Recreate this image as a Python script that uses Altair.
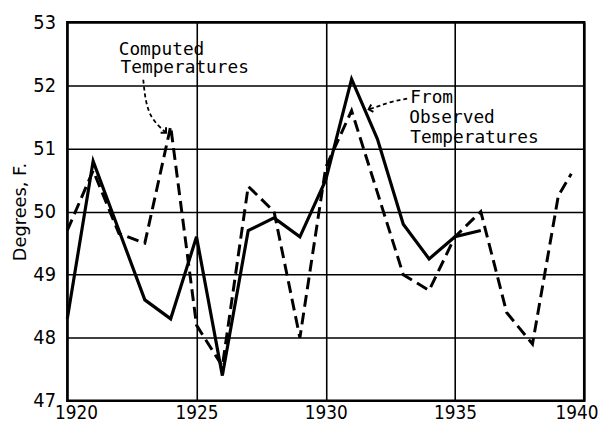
import altair as alt
import pandas as pd

# Observed temperatures (solid)
obs_years = [1920, 1921, 1922, 1923, 1924, 1925, 1926, 1927, 1928, 1929, 1930,
             1931, 1932, 1933, 1934, 1935, 1936]
obs_vals = [48.3, 50.8, 49.7, 48.6, 48.3, 49.6, 47.4, 49.7, 49.9, 49.6, 50.5,
            52.1, 51.15, 49.8, 49.25, 49.6, 49.7]

# Computed temperatures (dashed)
comp_years = [1920, 1921, 1922, 1923, 1924, 1925, 1926, 1927, 1928, 1929, 1930,
              1931, 1932, 1933, 1934, 1935, 1936, 1937, 1938, 1939, 1939.5]
comp_vals = [49.7, 50.65, 49.65, 49.5, 51.35, 48.2, 47.55, 50.4, 50.0, 48.0, 50.7,
             51.6, 50.3, 49.0, 48.75, 49.6, 50.0, 48.4, 47.9, 50.25, 50.6]

# Annotation text
ann_text = ["Computed", "Temperatures", "From", "Observed", "Temperatures"]
ann_x = [1921.99, 1922.06, 1933.27, 1933.23, 1933.27]
ann_y = [52.48, 52.19, 51.72, 51.40, 51.09]

# Annotation leader curves
lead_id = ["c", "c", "c", "c", "o", "o", "o", "o"]
lead_x = [1922.94, 1923.02, 1923.25, 1923.82, 1933.15, 1932.58, 1932.05, 1931.66]
lead_y = [52.09, 51.75, 51.46, 51.25, 51.79, 51.75, 51.67, 51.62]
lead_ord = [0, 1, 2, 3, 0, 1, 2, 3]

head_x = [1923.82, 1931.66]
head_y = [51.25, 51.62]
head_angle = [45, 163]

x_ticks = [1920, 1925, 1930, 1935, 1940]
y_ticks = [47, 48, 49, 50, 51, 52, 53]

obs_df = pd.DataFrame({"year": obs_years, "temp": obs_vals})
comp_df = pd.DataFrame({"year": comp_years, "temp": comp_vals})
ann_df = pd.DataFrame({"x": ann_x, "y": ann_y, "t": ann_text})
lead_df = pd.DataFrame({"id": lead_id, "x": lead_x, "y": lead_y, "o": lead_ord})
head_df = pd.DataFrame({"x": head_x, "y": head_y, "a": head_angle})

LABEL_FONT = "Liberation Sans Narrow, DejaVu Sans Condensed, sans-serif"
TITLE_FONT = "DejaVu Sans"
ANN_FONT = "DejaVu Sans Mono"

xscale = alt.Scale(domain=[1920, 1940], nice=False, zero=False)
yscale = alt.Scale(domain=[47, 53], nice=False, zero=False)

xenc = alt.X("year:Q", scale=xscale,
             axis=alt.Axis(values=x_ticks, format="d", title=None, grid=True,
                           gridColor="black", gridWidth=1.6, gridOpacity=1,
                           ticks=False, domain=False, labelFont=LABEL_FONT,
                           labelFontSize=19, labelColor="black", labelPadding=3,
                           labelFlush=False,
                           labelAlign=alt.ExprRef(
                               "datum.value == 1920 ? 'left' : datum.value == 1940 ? 'right' : 'center'"),
                           labelOffset=alt.ExprRef(
                               "datum.value == 1920 ? -13 : datum.value == 1940 ? 14 : 0")))
yenc = alt.Y("temp:Q", scale=yscale,
             axis=alt.Axis(values=y_ticks, format="d", title="Degrees, F.", grid=True,
                           gridColor="black", gridWidth=1.6, gridOpacity=1,
                           ticks=False, domain=False, labelFont=LABEL_FONT,
                           labelFontSize=20, labelColor="black", labelPadding=12,
                           titleFont=TITLE_FONT, titleFontSize=18,
                           titleFontWeight="normal", titleColor="black",
                           titlePadding=3))

obs_line = alt.Chart(obs_df).mark_line(color="black", strokeWidth=3.2,
                                       strokeJoin="miter").encode(x=xenc, y=yenc)

comp_line = alt.Chart(comp_df).mark_line(color="black", strokeWidth=3,
                                         strokeDash=[12, 6]).encode(
    x=alt.X("year:Q", scale=xscale),
    y=alt.Y("temp:Q", scale=yscale))

ann = alt.Chart(ann_df).mark_text(font=ANN_FONT, fontSize=18, align="left",
                                  baseline="alphabetic", color="black").encode(
    x=alt.X("x:Q", scale=xscale), y=alt.Y("y:Q", scale=yscale), text="t:N")

leads = alt.Chart(lead_df).mark_line(color="black", strokeWidth=1.8,
                                     strokeDash=[4, 3], interpolate="basis").encode(
    x=alt.X("x:Q", scale=xscale), y=alt.Y("y:Q", scale=yscale),
    detail="id:N", order="o:Q")

heads = alt.Chart(head_df).mark_point(shape="M-1,-1L0,0L-1,1", filled=False,
                                      color="black", strokeWidth=2, size=60,
                                      opacity=1).encode(
    x=alt.X("x:Q", scale=xscale), y=alt.Y("y:Q", scale=yscale),
    angle=alt.Angle("a:Q", scale=None))

chart = alt.layer(comp_line, obs_line, leads, heads, ann).properties(
    width=523, height=383,
    autosize=alt.AutoSizeParams(type="none"),
    padding={"left": 60, "top": 12, "right": 16, "bottom": 24},
    background="white",
).configure_view(stroke="black", strokeWidth=2.5)

chart.save("out.html", embed_options={"renderer": "svg", "actions": False})
